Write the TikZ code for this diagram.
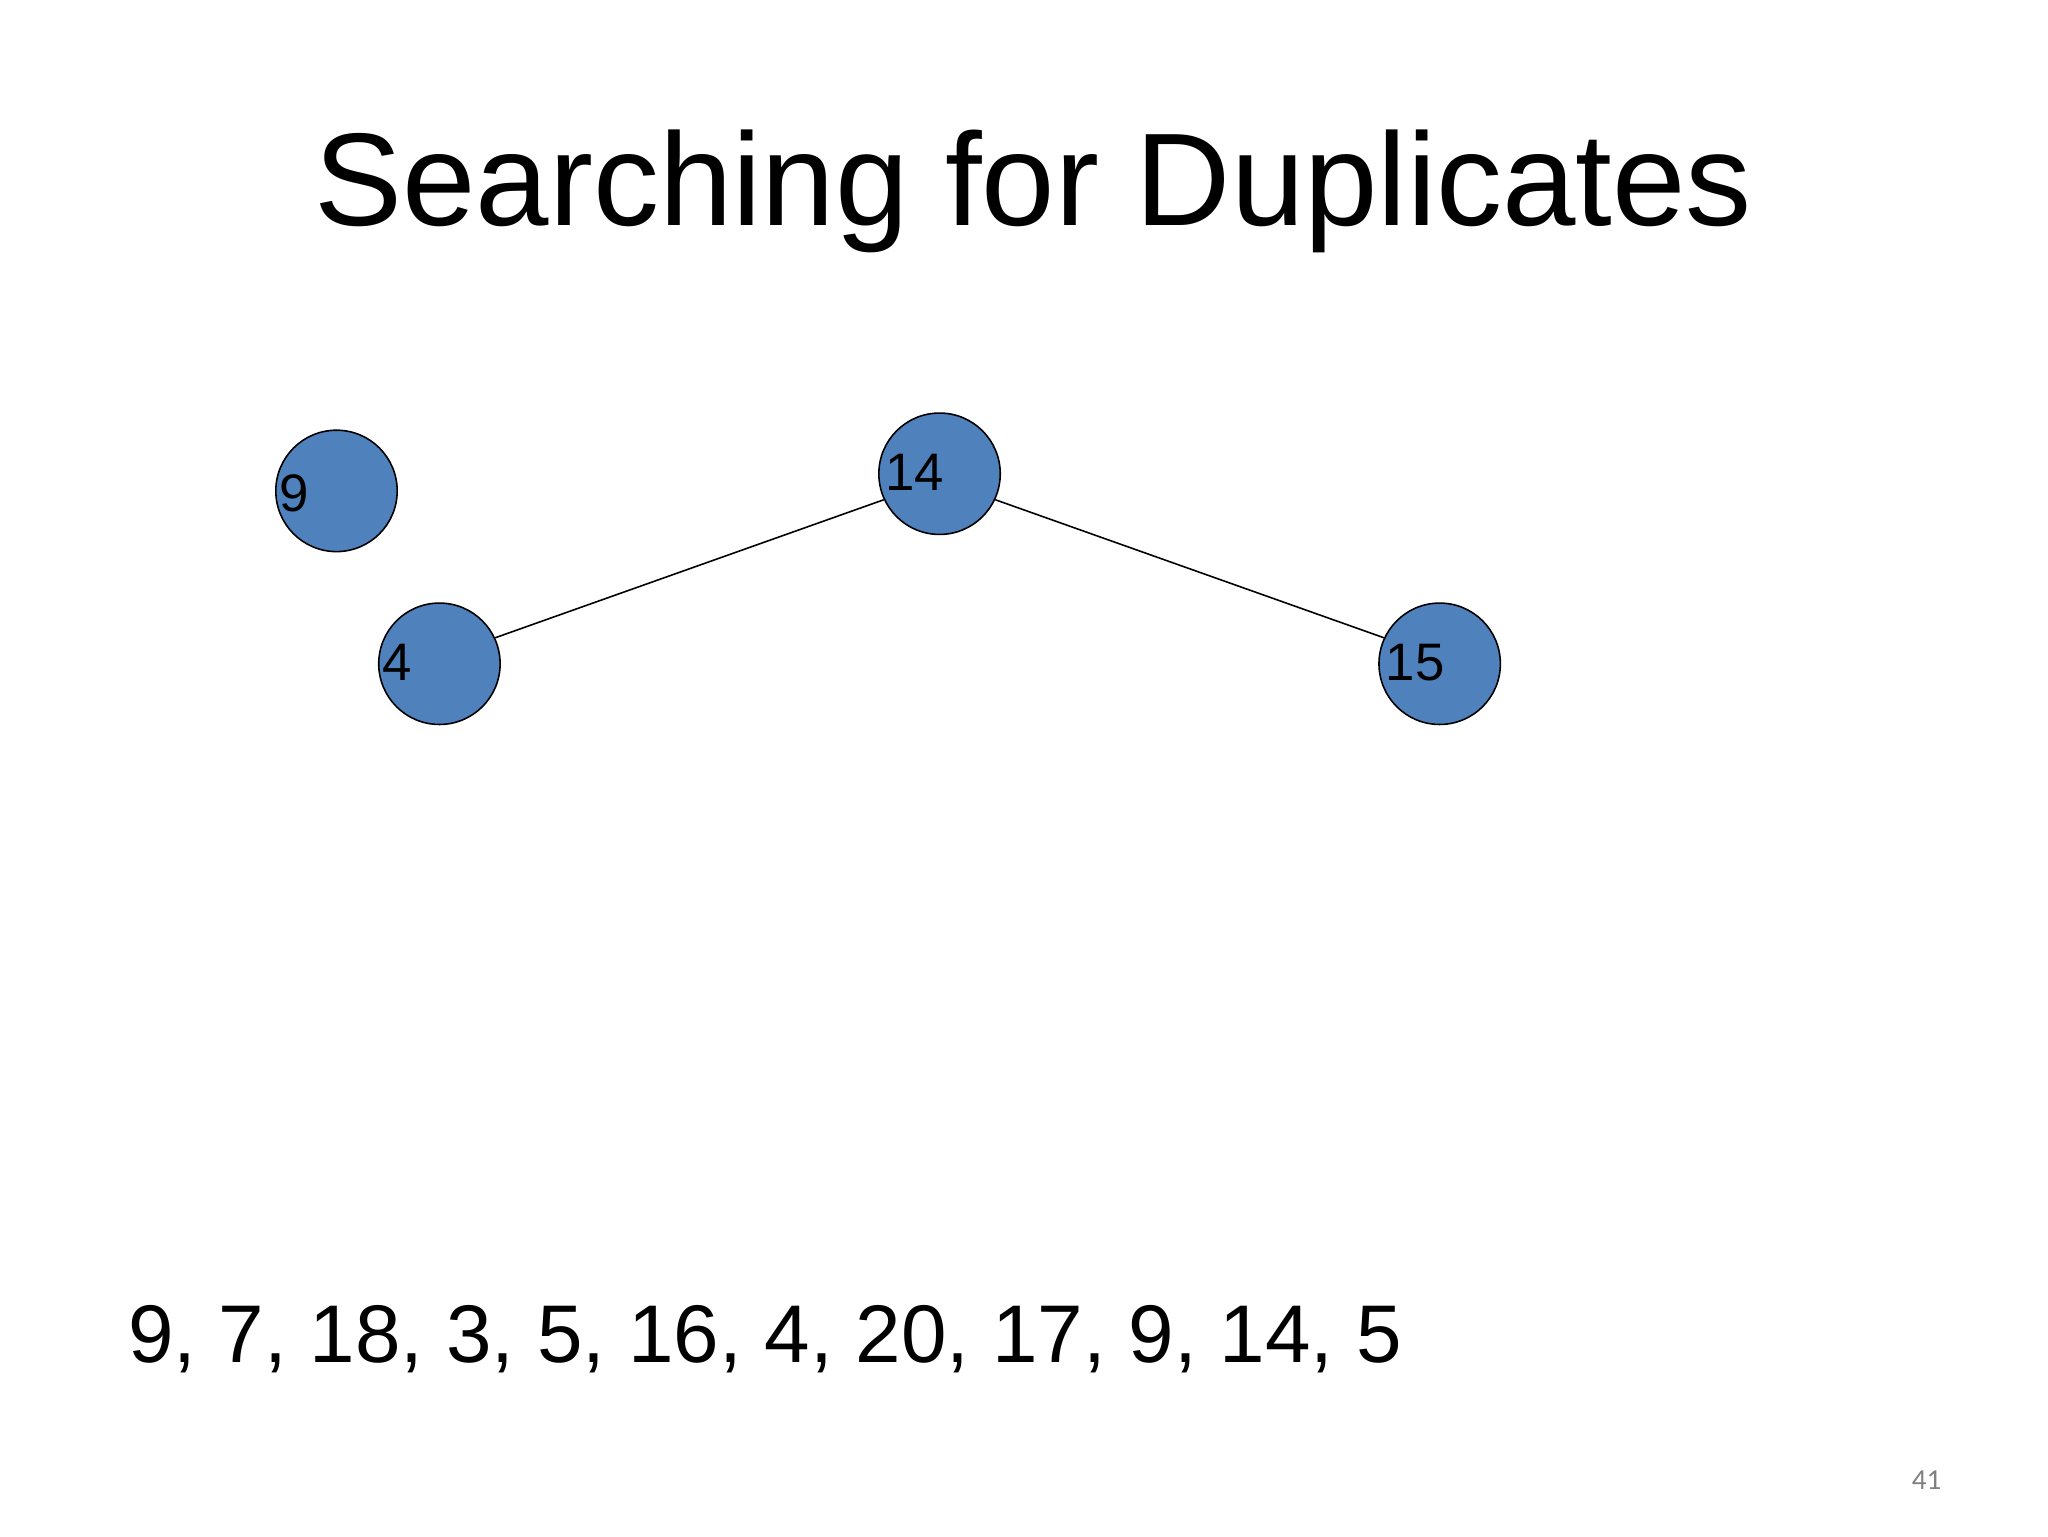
\documentclass[tikz,border=0pt]{standalone}
\usepackage{fontspec}
\setmainfont{Liberation Sans}
\newfontfamily\pgnum{Carlito}
\begin{document}
\begin{tikzpicture}[x=0.5pt,y=-0.5pt,
  bnode/.style={circle,draw=black,fill=blue!45!cyan!30!black!0,minimum size=46pt,inner sep=0pt,fill={rgb,255:red,79;green,129;blue,189},line width=0.6pt},
  lbl/.style={font=\fontsize{20}{24}\selectfont,anchor=west}]
\useasboundingbox (0,0) rectangle (1552,1164);
\node[font=\fontsize{50}{60}\selectfont] (title) at (783,145) {Searching for Duplicates};
\node[bnode] (n9) at (255,372) {};
\node[bnode] (n14) at (712,359) {};
\node[bnode] (n4) at (333,503) {};
\node[bnode] (n15) at (1091,503) {};
\node[lbl] (l9) at (205,374) {9};
\node[lbl] (l14) at (664,358) {14};
\node[lbl] (l4) at (283,502) {4};
\node[lbl] (l15) at (1043,502) {15};
\draw[line width=0.6pt] (n14.205) -- (n4.25);
\draw[line width=0.6pt] (n14.335) -- (n15.155);
\node[anchor=west,font=\fontsize{31}{37}\selectfont] (seq) at (90,1015) {9, 7, 18, 3, 5, 16, 4, 20, 17, 9, 14, 5};
\node[font=\pgnum\fontsize{11}{13}\selectfont,text=gray] (pg) at (1460,1122) {41};
\end{tikzpicture}
\end{document}
